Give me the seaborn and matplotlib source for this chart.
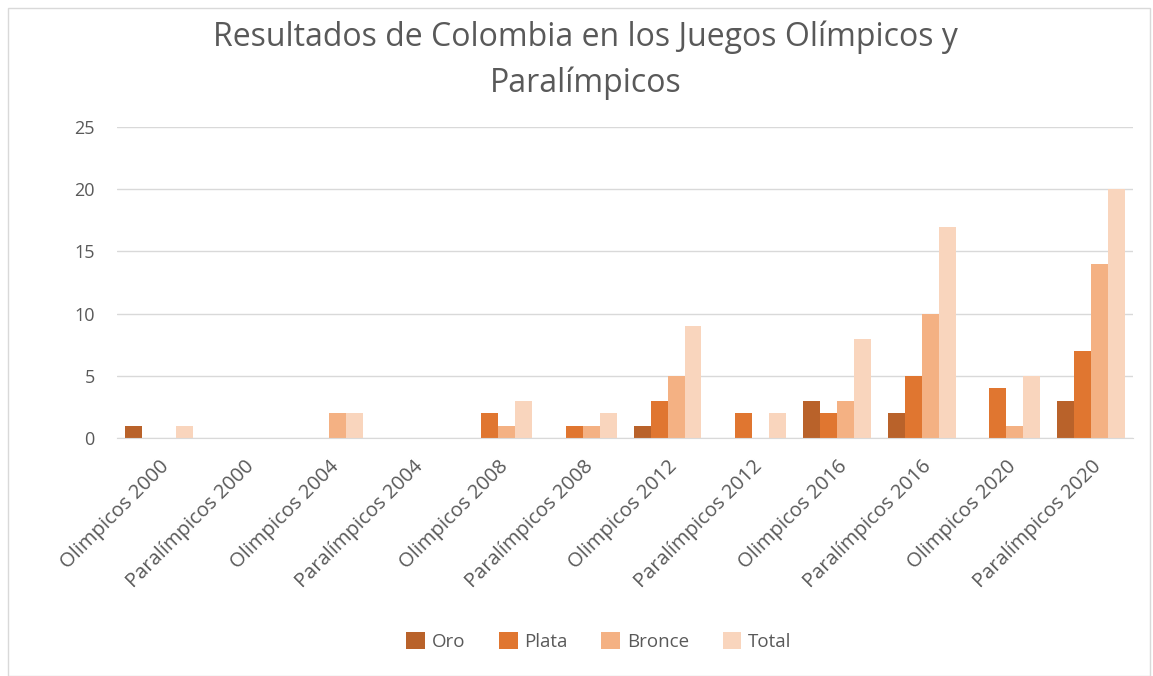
import seaborn as sns
import matplotlib.pyplot as plt
import pandas as pd

juegos = ["Olimpicos 2000", "Paralímpicos 2000", "Olimpicos 2004", "Paralímpicos 2004",
          "Olimpicos 2008", "Paralímpicos 2008", "Olimpicos 2012", "Paralímpicos 2012",
          "Olimpicos 2016", "Paralímpicos 2016", "Olimpicos 2020", "Paralímpicos 2020"]
oro = [1, 0, 0, 0, 0, 0, 1, 0, 3, 2, 0, 3]
plata = [0, 0, 0, 0, 2, 1, 3, 2, 2, 5, 4, 7]
bronce = [0, 0, 2, 0, 1, 1, 5, 0, 3, 10, 1, 14]
total = [1, 0, 2, 0, 3, 2, 9, 2, 8, 17, 5, 20]

medallas = ["Oro", "Plata", "Bronce", "Total"]
colores = ["#B9622A", "#E07630", "#F4B183", "#F9D5BD"]

# long-form table for seaborn
rows = []
for serie, valores in zip(medallas, [oro, plata, bronce, total]):
    for j, v in zip(juegos, valores):
        rows.append({"Juego": j, "Medalla": serie, "Cantidad": v})
df = pd.DataFrame(rows)

sns.set_style("white")
plt.rcParams['font.family'] = ['Open Sans', 'DejaVu Sans']

fig = plt.figure(figsize=(11.53, 6.76), dpi=100)
ax = fig.add_axes([0.1015, 0.352, 0.8815, 0.46])

sns.barplot(data=df, x="Juego", y="Cantidad", hue="Medalla", palette=colores,
            order=juegos, hue_order=medallas, width=0.8, saturation=1,
            linewidth=0, ax=ax)

ax.set_ylim(0, 25)
ax.set_yticks(range(0, 26, 5))
ax.yaxis.grid(True, color="#d9d9d9", linewidth=1)
ax.set_axisbelow(True)
for s in ["top", "right", "left"]:
    ax.spines[s].set_visible(False)
ax.spines["bottom"].set_color("#d9d9d9")
ax.set_xlabel("")
ax.set_ylabel("")
ax.tick_params(axis="y", length=0, colors="#595959", labelsize=13, pad=16)
ax.tick_params(axis="x", length=0, colors="#595959", labelsize=14.5, pad=13)
plt.setp(ax.get_xticklabels(), rotation=45, ha="right", rotation_mode="anchor")

fig.suptitle("Resultados de Colombia en los Juegos Olímpicos y\nParalímpicos",
             x=0.508, y=0.97, fontsize=23, color="#595959", linespacing=1.5)

ax.legend(loc="center", bbox_to_anchor=(0.474, -0.655), ncol=4, frameon=False,
          fontsize=13.5, labelcolor="#595959", handlelength=1.0, handleheight=1.0,
          handletextpad=0.35, columnspacing=1.8)

fig.patches.append(plt.Rectangle((0.007, 0.0), 0.99, 0.988, transform=fig.transFigure,
                                 fill=False, edgecolor="#d9d9d9", linewidth=1))

fig.savefig("out.png", dpi=100)
